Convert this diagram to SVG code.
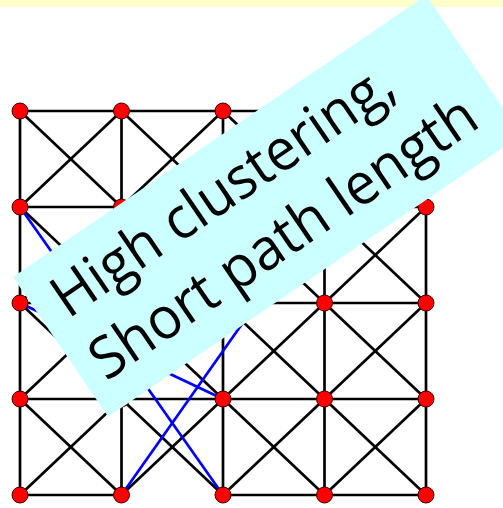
<svg xmlns="http://www.w3.org/2000/svg" width="503" height="508" viewBox="0 0 503 508">
<style>
.e{stroke:#000;stroke-width:2.7;fill:none}
.b{stroke:#0000ff;stroke-width:2.7;fill:none}
.n{fill:#ff0000;stroke:#3a0000;stroke-width:1}
.t{font-family:"Open Sans","Lato",sans-serif;font-size:58px;fill:#000}
</style>
<rect x="0" y="0" width="503" height="508" fill="#fff"/>
<rect x="0" y="0" width="503" height="7" fill="#ffffcc"/>
<g id="connectors">
<line class="e" x1="20" y1="111" x2="121.5" y2="111"/><line class="e" x1="121.5" y1="111" x2="223" y2="111"/><line class="e" x1="223" y1="111" x2="324.5" y2="111"/><line class="e" x1="324.5" y1="111" x2="426" y2="111"/>
<line class="e" x1="20" y1="207" x2="121.5" y2="207"/><line class="e" x1="121.5" y1="207" x2="223" y2="207"/><line class="e" x1="223" y1="207" x2="324.5" y2="207"/><line class="e" x1="324.5" y1="207" x2="426" y2="207"/>
<line class="e" x1="20" y1="303" x2="121.5" y2="303"/><line class="e" x1="121.5" y1="303" x2="223" y2="303"/><line class="e" x1="223" y1="303" x2="324.5" y2="303"/><line class="e" x1="324.5" y1="303" x2="426" y2="303"/>
<line class="e" x1="20" y1="399" x2="121.5" y2="399"/><line class="e" x1="121.5" y1="399" x2="223" y2="399"/><line class="e" x1="223" y1="399" x2="324.5" y2="399"/><line class="e" x1="324.5" y1="399" x2="426" y2="399"/>
<line class="e" x1="20" y1="495" x2="121.5" y2="495"/><line class="e" x1="223" y1="495" x2="324.5" y2="495"/><line class="e" x1="324.5" y1="495" x2="426" y2="495"/>
<line class="e" x1="20" y1="111" x2="20" y2="207"/><line class="e" x1="20" y1="207" x2="20" y2="303"/><line class="e" x1="20" y1="303" x2="20" y2="399"/><line class="e" x1="20" y1="399" x2="20" y2="495"/>
<line class="e" x1="121.5" y1="111" x2="121.5" y2="207"/><line class="e" x1="121.5" y1="207" x2="121.5" y2="303"/><line class="e" x1="121.5" y1="303" x2="121.5" y2="399"/><line class="e" x1="121.5" y1="399" x2="121.5" y2="495"/>
<line class="e" x1="223" y1="111" x2="223" y2="207"/><line class="e" x1="223" y1="207" x2="223" y2="303"/><line class="e" x1="223" y1="303" x2="223" y2="399"/><line class="e" x1="223" y1="399" x2="223" y2="495"/>
<line class="e" x1="324.5" y1="111" x2="324.5" y2="207"/><line class="e" x1="324.5" y1="207" x2="324.5" y2="303"/><line class="e" x1="324.5" y1="303" x2="324.5" y2="399"/><line class="e" x1="324.5" y1="399" x2="324.5" y2="495"/>
<line class="e" x1="426" y1="111" x2="426" y2="207"/><line class="e" x1="426" y1="207" x2="426" y2="303"/><line class="e" x1="426" y1="303" x2="426" y2="399"/><line class="e" x1="426" y1="399" x2="426" y2="495"/>
<line class="e" x1="20" y1="111" x2="121.5" y2="207"/><line class="e" x1="121.5" y1="111" x2="20" y2="207"/>
<line class="e" x1="121.5" y1="111" x2="223" y2="207"/><line class="e" x1="223" y1="111" x2="121.5" y2="207"/>
<line class="e" x1="223" y1="111" x2="324.5" y2="207"/><line class="e" x1="324.5" y1="111" x2="223" y2="207"/>
<line class="e" x1="324.5" y1="111" x2="426" y2="207"/><line class="e" x1="426" y1="111" x2="324.5" y2="207"/>
<line class="e" x1="20" y1="207" x2="121.5" y2="303"/><line class="e" x1="121.5" y1="207" x2="20" y2="303"/>
<line class="e" x1="121.5" y1="207" x2="223" y2="303"/><line class="e" x1="223" y1="207" x2="121.5" y2="303"/>
<line class="e" x1="223" y1="207" x2="324.5" y2="303"/><line class="e" x1="324.5" y1="207" x2="223" y2="303"/>
<line class="e" x1="324.5" y1="207" x2="426" y2="303"/><line class="e" x1="426" y1="207" x2="324.5" y2="303"/>
<line class="e" x1="20" y1="303" x2="121.5" y2="399"/><line class="e" x1="121.5" y1="303" x2="20" y2="399"/>
<line class="e" x1="121.5" y1="303" x2="223" y2="399"/><line class="e" x1="223" y1="303" x2="121.5" y2="399"/>
<line class="e" x1="223" y1="303" x2="324.5" y2="399"/><line class="e" x1="324.5" y1="303" x2="223" y2="399"/>
<line class="e" x1="324.5" y1="303" x2="426" y2="399"/><line class="e" x1="426" y1="303" x2="324.5" y2="399"/>
<line class="e" x1="20" y1="399" x2="121.5" y2="495"/><line class="e" x1="121.5" y1="399" x2="20" y2="495"/>
<line class="e" x1="121.5" y1="399" x2="223" y2="495"/><line class="e" x1="223" y1="399" x2="121.5" y2="495"/>
<line class="e" x1="223" y1="399" x2="324.5" y2="495"/><line class="e" x1="324.5" y1="399" x2="223" y2="495"/>
<line class="e" x1="324.5" y1="399" x2="426" y2="495"/><line class="e" x1="426" y1="399" x2="324.5" y2="495"/>
<line class="b" x1="20" y1="207" x2="223" y2="495"/>
<line class="b" x1="121.5" y1="495" x2="324.5" y2="207"/>
<line class="b" x1="20" y1="303" x2="223" y2="399"/>
</g>
<g id="n00"><circle class="n" cx="20" cy="111" r="8"/></g>
<g id="n01"><circle class="n" cx="121.5" cy="111" r="8"/></g>
<g id="n02"><circle class="n" cx="223" cy="111" r="8"/></g>
<g id="n03"><circle class="n" cx="324.5" cy="111" r="8"/></g>
<g id="n04"><circle class="n" cx="426" cy="111" r="8"/></g>
<g id="n10"><circle class="n" cx="20" cy="207" r="8"/></g>
<g id="n11"><circle class="n" cx="121.5" cy="207" r="8"/></g>
<g id="n12"><circle class="n" cx="223" cy="207" r="8"/></g>
<g id="n13"><circle class="n" cx="324.5" cy="207" r="8"/></g>
<g id="n14"><circle class="n" cx="426" cy="207" r="8"/></g>
<g id="n20"><circle class="n" cx="20" cy="303" r="8"/></g>
<g id="n21"><circle class="n" cx="121.5" cy="303" r="8"/></g>
<g id="n22"><circle class="n" cx="223" cy="303" r="8"/></g>
<g id="n23"><circle class="n" cx="324.5" cy="303" r="8"/></g>
<g id="n24"><circle class="n" cx="426" cy="303" r="8"/></g>
<g id="n30"><circle class="n" cx="20" cy="399" r="8"/></g>
<g id="n31"><circle class="n" cx="121.5" cy="399" r="8"/></g>
<g id="n32"><circle class="n" cx="223" cy="399" r="8"/></g>
<g id="n33"><circle class="n" cx="324.5" cy="399" r="8"/></g>
<g id="n34"><circle class="n" cx="426" cy="399" r="8"/></g>
<g id="n40"><circle class="n" cx="20" cy="495" r="8"/></g>
<g id="n41"><circle class="n" cx="121.5" cy="495" r="8"/></g>
<g id="n42"><circle class="n" cx="223" cy="495" r="8"/></g>
<g id="n43"><circle class="n" cx="324.5" cy="495" r="8"/></g>
<g id="n44"><circle class="n" cx="426" cy="495" r="8"/></g>
<g id="callout" transform="translate(13,277) rotate(-34.28)">
<rect x="0" y="0" width="500" height="169" fill="#ccffff"/>
<text class="t" x="22" y="66" textLength="400" lengthAdjust="spacingAndGlyphs">High clustering,</text>
<text class="t" x="18" y="139" textLength="455" lengthAdjust="spacingAndGlyphs">Short path length</text>
</g>
</svg>
